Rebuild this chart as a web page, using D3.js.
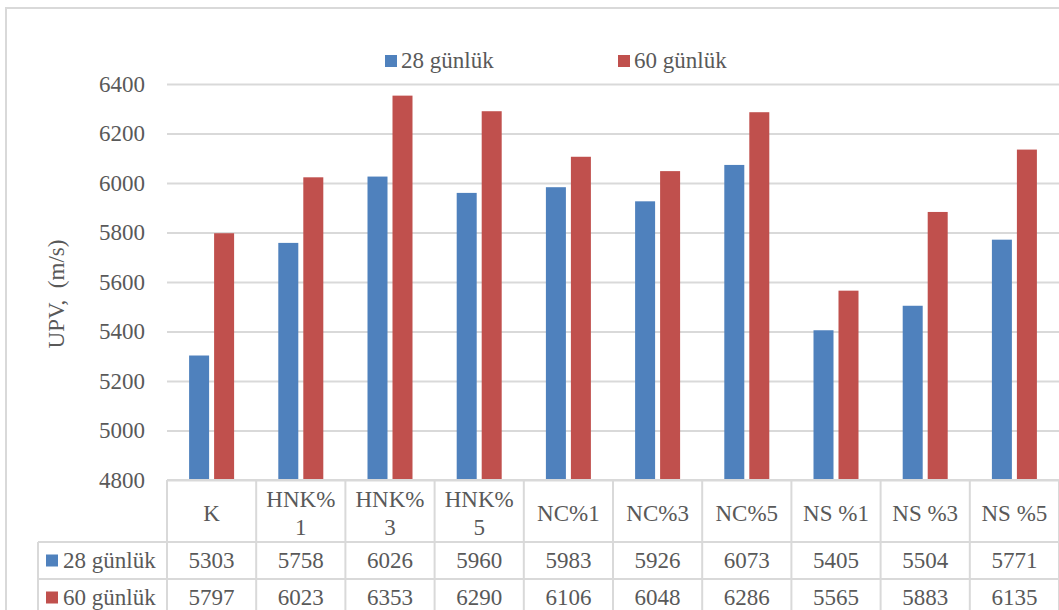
<!DOCTYPE html>
<html>
<head>
<meta charset="utf-8">
<script src="https://cdn.jsdelivr.net/npm/d3@7"></script>
<style>
  html, body { margin: 0; padding: 0; background: #fff; }
  svg { display: block; }
  text { font-family: "Liberation Serif", "Times New Roman", serif; fill: #595959; white-space: pre; }
</style>
</head>
<body>
<svg id="chart" width="1059" height="610"></svg>
<script>
// Mix groups and ultrasonic pulse velocity (m/s) at two curing ages
const categories = ["K", "HNK%1", "HNK%3", "HNK%5", "NC%1", "NC%3", "NC%5", "NS %1", "NS %3", "NS %5"];
const headerLines = [["K"], ["HNK%", "1"], ["HNK%", "3"], ["HNK%", "5"], ["NC%1"], ["NC%3"], ["NC%5"], ["NS %1"], ["NS %3"], ["NS %5"]];
const seriesNames = ["28 günlük", "60 günlük"];
const values28 = [5303, 5758, 6026, 5960, 5983, 5926, 6073, 5405, 5504, 5771];
const values60 = [5797, 6023, 6353, 6290, 6106, 6048, 6286, 5565, 5883, 6135];
const yTicks = [4800, 5000, 5200, 5400, 5600, 5800, 6000, 6200, 6400];
const colors = ["#4f81bd", "#c0504d"];
const yTitle = "UPV,  (m/s)";

const seriesValues = [values28, values60];
const svg = d3.select("#chart");
const gridColor = "#d9d9d9";
const fs = 23;

const plotLeft = 167, plotRight = 1059, plotTop = 84, plotBottom = 480;
const tableLeft = 38;
const rowLines = [480, 542, 579, 616];

const x = d3.scaleBand().domain(categories).range([plotLeft, plotRight]).paddingInner(0).paddingOuter(0);
const bw = x.bandwidth();
const xs = d3.scaleBand().domain(seriesNames).range([bw / 2 - 22.5, bw / 2 + 22.5]).paddingInner(0.2).paddingOuter(0);
const y = d3.scaleLinear().domain([4800, 6400]).range([plotBottom, plotTop]);

// outer chart frame
svg.append("path")
  .attr("d", `M6,${610} L6,8 L${1059},8`)
  .attr("fill", "none").attr("stroke", gridColor).attr("stroke-width", 2);

// gridlines and value axis labels
const yAxis = d3.axisLeft(y).tickValues(yTicks).tickSize(-(plotRight - plotLeft)).tickPadding(22).tickFormat(d3.format("d"));
const gAxis = svg.append("g").attr("transform", `translate(${plotLeft},0)`).call(yAxis);
gAxis.select(".domain").remove();
gAxis.selectAll(".tick line").attr("stroke", gridColor).attr("stroke-width", 2);
gAxis.selectAll(".tick text")
  .attr("font-size", fs)
  .attr("font-family", "'Liberation Serif', 'Times New Roman', serif")
  .attr("fill", "#595959");

// axis title
svg.append("text")
  .attr("transform", `translate(56,294) rotate(-90)`)
  .attr("text-anchor", "middle")
  .attr("dominant-baseline", "central")
  .attr("xml:space", "preserve")
  .attr("font-size", fs)
  .text(yTitle);

// bars
seriesNames.forEach((s, si) => {
  svg.append("g").selectAll("rect")
    .data(categories.map((c, i) => ({ c, v: seriesValues[si][i] })))
    .join("rect")
    .attr("x", d => x(d.c) + xs(s))
    .attr("width", xs.bandwidth())
    .attr("y", d => y(d.v))
    .attr("height", d => y(4800) - y(d.v))
    .attr("fill", colors[si]);
});

// top legend
const legendX = [385, 618];
seriesNames.forEach((s, si) => {
  const g = svg.append("g").attr("transform", `translate(${legendX[si]},0)`);
  g.append("rect").attr("x", 0).attr("y", 55).attr("width", 12).attr("height", 12).attr("fill", colors[si]);
  g.append("text").attr("x", 16).attr("y", 60).attr("dominant-baseline", "central").attr("font-size", fs).text(s);
});

// data table grid
const grid = svg.append("g").attr("stroke", gridColor).attr("stroke-width", 2).attr("fill", "none");
grid.append("line").attr("x1", plotLeft).attr("x2", plotRight).attr("y1", rowLines[0]).attr("y2", rowLines[0]);
rowLines.slice(1).forEach(ry => {
  grid.append("line").attr("x1", tableLeft).attr("x2", plotRight).attr("y1", ry).attr("y2", ry);
});
categories.concat([null]).forEach((c, i) => {
  const vx = c === null ? plotRight : x(c);
  grid.append("line").attr("x1", vx).attr("x2", vx).attr("y1", rowLines[0]).attr("y2", rowLines[3]);
});
grid.append("line").attr("x1", tableLeft).attr("x2", tableLeft).attr("y1", rowLines[1]).attr("y2", rowLines[3]);

// header cells
const headerMid = 513, lineGap = 28;
categories.forEach((c, i) => {
  const lines = headerLines[i];
  const t = svg.append("text")
    .attr("text-anchor", "middle")
    .attr("font-size", fs);
  lines.forEach((ln, li) => {
    t.append("tspan")
      .attr("x", x(c) + bw / 2)
      .attr("y", headerMid + (li - (lines.length - 1) / 2) * lineGap)
      .attr("dominant-baseline", "central")
      .text(ln);
  });
});

// value rows with legend keys
seriesNames.forEach((s, si) => {
  const cy = (rowLines[si + 1] + rowLines[si + 2]) / 2;
  svg.append("rect").attr("x", 46).attr("y", cy - 6).attr("width", 12).attr("height", 12).attr("fill", colors[si]);
  svg.append("text").attr("x", 63).attr("y", cy).attr("dominant-baseline", "central").attr("font-size", fs).text(s);
  categories.forEach((c, i) => {
    svg.append("text")
      .attr("x", x(c) + bw / 2)
      .attr("y", cy)
      .attr("text-anchor", "middle")
      .attr("dominant-baseline", "central")
      .attr("font-size", fs)
      .text(seriesValues[si][i]);
  });
});
</script>
</body>
</html>
